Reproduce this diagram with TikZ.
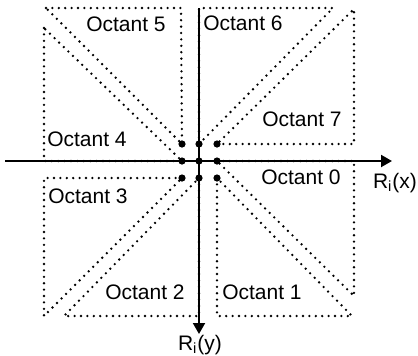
\documentclass[tikz,border=0pt]{standalone}
\usepackage{fontspec}
\setmainfont{Liberation Sans}
\usetikzlibrary{arrows.meta,positioning}
\tikzset{
  axis/.style={-{Triangle[length=5.5pt,width=6pt]},line width=1pt},
  octline/.style={line width=1.3pt,dash pattern=on 0pt off 3.2pt,line cap=round},
  octlbl/.style={font=\fontsize{10.5}{12}\selectfont,inner sep=0pt},
  axlbl/.style={font=\fontsize{10.5}{12}\selectfont,inner sep=0pt},
  pix/.style={circle,fill,inner sep=0pt,minimum size=3.6pt}
}

\begin{document}
\begin{tikzpicture}[x=0.5pt,y=-0.5pt]
  \useasboundingbox (0,0) rectangle (418,355);

  % pixel grid round the centre
  \foreach \i/\x in {0/182,1/199,2/217}
    \foreach \j/\y in {0/144,1/161,2/178}
      \node[pix] (p\i\j) at (\x,\y) {};

  % octant triangles
  \draw[octline] (46,8) -- (181,8) -- (p00.center) -- cycle;
  \draw[octline] (44,28) -- (44,161) -- (p01.center) -- cycle;
  \draw[octline] (p10.center) -- (199,8) -- (333,8) -- cycle;
  \draw[octline] (p20.center) -- (354,144) -- (354,9) -- cycle;
  \draw[octline] (p21.center) -- (354,161) -- (354,296) -- cycle;
  \draw[octline] (p22.center) -- (217,316) -- (352,316) -- cycle;
  \draw[octline] (p12.center) -- (199,316) -- (64,316) -- cycle;
  \draw[octline] (p02.center) -- (44,178) -- (44,316) -- cycle;

  % axes
  \coordinate (xs) at (5,161);
  \coordinate (xe) at (392,161);
  \coordinate (ys) at (199,8);
  \coordinate (ye) at (199,334);
  \draw[axis] (xs) -- (xe);
  \draw[axis] (ys) -- (ye);

  % labels
  \node[octlbl] (o5) at (126,24) {Octant 5};
  \node[octlbl] (o4) at (87,139) {Octant 4};
  \node[octlbl] (o6) at (243,23) {Octant 6};
  \node[octlbl] (o7) at (302,119) {Octant 7};
  \node[octlbl] (o0) at (301,177) {Octant 0};
  \node[octlbl] (o1) at (262,292) {Octant 1};
  \node[octlbl] (o2) at (145,292) {Octant 2};
  \node[octlbl] (o3) at (88,196) {Octant 3};
  \node[axlbl] (rx) at (395,183) {R\textsubscript{i}(x)};
  \node[axlbl] (ry) at (200,345) {R\textsubscript{i}(y)};
\end{tikzpicture}
\end{document}
